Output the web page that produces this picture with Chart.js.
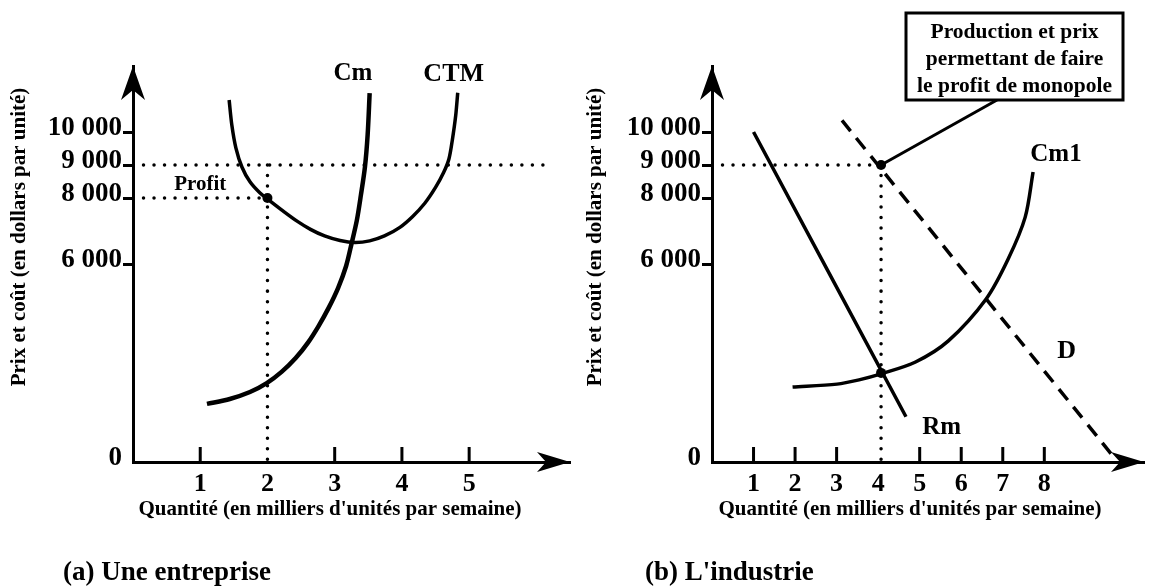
<!DOCTYPE html>
<html>
<head>
<meta charset="utf-8">
<script src="https://cdn.jsdelivr.net/npm/chart.js@4.4.1/dist/chart.umd.min.js"></script>
<style>
  html, body { margin: 0; padding: 0; background: #fff; }
  #wrap { position: relative; width: 1149px; height: 588px; }
  canvas { position: absolute; top: 0; }
  #firm { left: 0; }
  #industry { left: 575px; }
</style>
</head>
<body>
<div id="wrap">
  <canvas id="firm" width="575" height="588"></canvas>
  <canvas id="industry" width="574" height="588"></canvas>
</div>
<script>
//
// Valeurs (quantité en milliers, prix en dollars)
//
const yTicks = [ 0, 6000, 8000, 9000, 10000 ];

// (a) Une entreprise
const firmTicks = [ 1, 2, 3, 4, 5 ];
const cmQ = [ 1.10, 1.44, 1.74, 1.99, 2.21, 2.42, 2.60, 2.76, 2.91, 3.05, 3.17, 3.25, 3.33, 3.39, 3.45, 3.49, 3.52 ];
const cmV = [ 1760, 1910, 2120, 2390, 2730, 3150, 3610, 4120, 4670, 5270, 5940, 6610, 7330, 8090, 8940, 9910, 11180 ];
const ctmQ = [ 1.43, 1.47, 1.53, 1.62, 1.74, 1.89, 2.02, 2.23, 2.44, 2.64, 2.85, 3.08, 3.30, 3.52, 3.74, 3.97, 4.16, 4.34, 4.50, 4.62, 4.70, 4.75, 4.80, 4.83 ];
const ctmV = [ 10970, 10210, 9520, 8940, 8490, 8150, 7940, 7610, 7300, 7050, 6850, 6710, 6650, 6700, 6850, 7110, 7440, 7840, 8320, 8770, 9190, 9760, 10500, 11190 ];
const firmQ = 2;
const firmPrice = 9000;
const firmCost = 8000;
const firmPriceEnd = 6.25;

// (b) L'industrie
const industryTicks = [ 1, 2, 3, 4, 5, 6, 7, 8 ];
const rmQ = [ 1.0, 4.67 ];
const rmV = [ 10000, 1370 ];
const dQ = [ 3.13, 9.64 ];
const dV = [ 10350, 200 ];
const cm1Q = [ 1.94, 3.01, 3.54, 4.07, 4.90, 5.69, 6.60, 7.13, 7.54, 7.73 ];
const cm1V = [ 2270, 2360, 2490, 2670, 3030, 3670, 4940, 6150, 7420, 8790 ];
const monoQ = 4.07;
const monoPrice = 9000;
const monoCost = 2700;

const SERIF = "'Liberation Serif', 'DejaVu Serif', serif";
const pts = ( qs, vs ) => qs.map( ( q, i ) => ( { x: q, y: vs[ i ] } ) );

function curve( data, width, dash ) {
	return {
		type: "line", data: data, borderColor: "#000", borderWidth: width,
		borderDash: dash || [], pointRadius: 0, fill: false, tension: 0.3
	};
}
function dotted( data ) {
	return { type: "line", data: data, borderColor: "#000", borderWidth: 3.5,
		borderDash: [ 0.01, 10.5 ], borderCapStyle: "round", pointRadius: 0, fill: false };
}
function marker( data ) {
	return { type: "line", data: data, showLine: false, pointRadius: 5,
		pointBackgroundColor: "#000", pointBorderWidth: 0 };
}

//
// Flèches, titres, étiquettes et légende dessinés après les courbes
//
const decor = {
	id: "decor",
	afterDraw( chart ) {
		const cfg = chart.options.plugins.decor;
		const { ctx, chartArea: a, scales: { x, y } } = chart;
		ctx.save();
		ctx.fillStyle = "#000";
		ctx.strokeStyle = "#000";

		// flèche verticale
		ctx.beginPath();
		ctx.moveTo( a.left, a.top );
		ctx.lineTo( a.left - 12, a.top + 34 );
		ctx.lineTo( a.left, a.top + 24 );
		ctx.lineTo( a.left + 12, a.top + 34 );
		ctx.closePath();
		ctx.fill();
		// flèche horizontale
		ctx.beginPath();
		ctx.moveTo( a.right, a.bottom );
		ctx.lineTo( a.right - 33, a.bottom - 10 );
		ctx.lineTo( a.right - 24, a.bottom );
		ctx.lineTo( a.right - 33, a.bottom + 10 );
		ctx.closePath();
		ctx.fill();

		// graduations vers le haut
		ctx.lineWidth = 3;
		cfg.ticks.forEach( q => {
			if ( q === cfg.skipTick ) return;
			const px = x.getPixelForValue( q );
			ctx.beginPath();
			ctx.moveTo( px, a.bottom - 15 );
			ctx.lineTo( px, a.bottom );
			ctx.stroke();
		} );

		// titres des axes
		ctx.font = "bold 21px " + SERIF;
		ctx.textAlign = "center";
		ctx.textBaseline = "middle";
		ctx.fillText( "Quantité (en milliers d'unités par semaine)", cfg.xTitleX, 510 );
		ctx.save();
		ctx.translate( cfg.yTitleX, 237 );
		ctx.rotate( -Math.PI / 2 );
		ctx.fillText( "Prix et coût (en dollars par unité)", 0, 0 );
		ctx.restore();

		// noms des courbes
		cfg.labels.forEach( l => {
			ctx.font = l.weight + " " + l.size + "px " + SERIF;
			ctx.fillText( l.text, x.getPixelForValue( l.q ), y.getPixelForValue( l.v ) );
		} );

		// légende sous le graphique
		ctx.font = "bold 27px " + SERIF;
		ctx.textAlign = "left";
		ctx.fillText( cfg.caption, cfg.captionX, 573 );

		// encadré
		if ( cfg.box ) {
			const b = cfg.box;
			ctx.lineWidth = 3;
			ctx.beginPath();
			ctx.moveTo( b.anchorX, b.y1 );
			ctx.lineTo( x.getPixelForValue( monoQ ), y.getPixelForValue( monoPrice ) );
			ctx.stroke();
			ctx.fillStyle = "#fff";
			ctx.fillRect( b.x0, b.y0, b.x1 - b.x0, b.y1 - b.y0 );
			ctx.fillStyle = "#000";
			ctx.strokeRect( b.x0, b.y0, b.x1 - b.x0, b.y1 - b.y0 );
			ctx.font = "bold 21.5px " + SERIF;
			ctx.textAlign = "center";
			b.lines.forEach( ( t, i ) => ctx.fillText( t, ( b.x0 + b.x1 ) / 2, b.lineY[ i ] ) );
		}
		ctx.restore();
	}
};

function makeChart( id, cfg ) {
	return new Chart( document.getElementById( id ), {
		data: { datasets: cfg.datasets },
		options: {
			responsive: false,
			animation: false,
			events: [],
			layout: { padding: { left: 0, right: cfg.padRight, top: 66, bottom: 76 } },
			plugins: { legend: { display: false }, tooltip: { enabled: false }, decor: cfg },
			scales: {
				x: {
					type: "linear", min: 0, max: cfg.xMax,
					afterBuildTicks: s => { s.ticks = cfg.ticks.map( v => ( { value: v } ) ); },
					afterFit: s => { s.height = 50; },
					grid: { display: false, drawTicks: false },
					border: { display: true, color: "#000", width: 3 },
					ticks: { color: "#000", font: { family: SERIF, size: 26, weight: "bold" }, padding: 7, maxRotation: 0, autoSkip: false }
				},
				y: {
					type: "linear", min: 0, max: 12000,
					afterBuildTicks: s => { s.ticks = yTicks.map( v => ( { value: v } ) ); },
					afterFit: s => { s.width = cfg.axisLeft; },
					grid: {
						drawOnChartArea: false, drawTicks: true, tickLength: 10, lineWidth: 3,
						color: c => c.tick && c.tick.value === 0 ? "rgba(0,0,0,0)" : "#000",
						tickColor: c => c.tick && c.tick.value === 0 ? "rgba(0,0,0,0)" : "#000"
					},
					border: { display: true, color: "#000", width: 3 },
					ticks: {
						color: "#000", font: { family: SERIF, size: 27, weight: "bold" }, padding: 1, labelOffset: -4, autoSkip: false,
						callback: v => v === 0 ? "0" : ( v / 1000 ) + " 000"
					}
				}
			}
		},
		plugins: [ decor ]
	} );
}

makeChart( "firm", {
	axisLeft: 133, xMax: 6.5, padRight: 4.5,
	ticks: firmTicks, skipTick: firmQ,
	xTitleX: 330, yTitleX: 20,
	caption: "(a) Une entreprise", captionX: 63,
	labels: [
		{ text: "Cm", q: 3.27, v: 11760, size: 25, weight: "bold" },
		{ text: "CTM", q: 4.77, v: 11760, size: 26, weight: "bold" },
		{ text: "Profit", q: 1.0, v: 8400, size: 21, weight: "bold" }
	],
	datasets: [
		dotted( pts( [ 0, firmPriceEnd ], [ firmPrice, firmPrice ] ) ),
		dotted( pts( [ 0, firmQ ], [ firmCost, firmCost ] ) ),
		dotted( pts( [ firmQ, firmQ ], [ firmPrice, 0 ] ) ),
		curve( pts( ctmQ, ctmV ), 3.5 ),
		curve( pts( cmQ, cmV ), 4.5 ),
		marker( pts( [ firmQ ], [ firmCost ] ) )
	]
} );

makeChart( "industry", {
	axisLeft: 137, xMax: 10.4, padRight: 2.3,
	ticks: industryTicks, skipTick: 4,
	xTitleX: 335, yTitleX: 21,
	caption: "(b) L'industrie", captionX: 70,
	labels: [
		{ text: "Cm1", q: 8.28, v: 9330, size: 25, weight: "bold" },
		{ text: "D", q: 8.54, v: 3340, size: 26, weight: "bold" },
		{ text: "Rm", q: 5.53, v: 1030, size: 25, weight: "bold" }
	],
	box: {
		x0: 331, y0: 13, x1: 548, y1: 100, anchorX: 422,
		lines: [ "Production et prix", "permettant de faire", "le profit de monopole" ],
		lineY: [ 32, 59, 86 ]
	},
	datasets: [
		dotted( pts( [ 0, monoQ ], [ monoPrice, monoPrice ] ) ),
		dotted( pts( [ monoQ, monoQ ], [ monoPrice, 0 ] ) ),
		curve( pts( dQ, dV ), 3.5, [ 14, 9 ] ),
		curve( pts( rmQ, rmV ), 3.5 ),
		curve( pts( cm1Q, cm1V ), 3.5 ),
		marker( pts( [ monoQ, monoQ ], [ monoPrice, monoCost ] ) )
	]
} );
</script>
</body>
</html>
